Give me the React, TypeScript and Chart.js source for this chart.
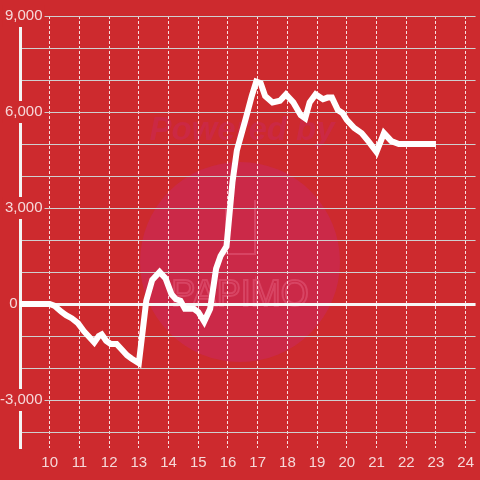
import React, { useEffect, useRef } from 'react';
import { Chart, registerables } from 'chart.js';

Chart.register(...registerables);

// hour of day
const hours = [
  9, 10, 10.15, 10.4, 10.55, 10.75, 10.95, 11.15, 11.4, 11.5, 11.65, 11.75, 11.9, 12.05, 12.25, 12.4, 12.6, 12.75, 13.0,
  13.25, 13.45, 13.7, 13.9, 14.1, 14.25, 14.4, 14.55, 14.85, 15.0, 15.2, 15.4, 15.6, 15.75, 15.95,
  16.15, 16.3, 16.45, 16.6, 16.8, 16.95, 17.1, 17.25, 17.5, 17.75, 17.95, 18.2, 18.45, 18.6, 18.75, 18.95,
  19.2, 19.35, 19.5, 19.7, 19.85, 20.0, 20.25, 20.5, 20.75, 21.0, 21.25, 21.5, 21.75, 23.0,
];
// balance
const balance = [
  0, 0, -50, -250, -350, -450, -600, -850, -1100, -1200, -1000, -950, -1150, -1250, -1250, -1400, -1600, -1700, -1850,
  100, 750, 1000, 800, 300, 150, 100, -150, -150, -250, -550, -150, 1100, 1500, 1800,
  3800, 4800, 5300, 5800, 6500, 6950, 6900, 6500, 6300, 6350, 6550, 6300, 5900, 5800, 6300, 6550,
  6400, 6450, 6450, 6060, 5970, 5750, 5500, 5340, 5060, 4750, 5340, 5090, 5000, 5000,
];

const xTickValues = [10, 11, 12, 13, 14, 15, 16, 17, 18, 19, 20, 21, 22, 23, 24];
const yGridValues = [-4000, -3000, -2000, -1000, 0, 1000, 2000, 3000, 4000, 5000, 6000, 7000, 8000, 9000];
const yLabelValues = [9000, 6000, 3000, 0, -3000];

const BG = '#cd2a2e';
const TEXT = 'rgba(255,255,255,0.82)';
const FONT = 'Liberation Sans, Arial, sans-serif';

export default function App() {
  const ref = useRef<HTMLCanvasElement | null>(null);

  useEffect(() => {
    document.body.style.margin = '0';
    document.body.style.background = BG;
    const canvas = ref.current;
    if (!canvas) return;

    const bgPlugin = {
      id: 'bgAndMark',
      beforeDraw(chart: any) {
        const ctx = chart.ctx;
        ctx.save();
        ctx.fillStyle = BG;
        ctx.fillRect(0, 0, chart.width, chart.height);
        // faint watermark
        ctx.fillStyle = 'rgba(200,40,110,0.42)';
        ctx.beginPath();
        ctx.arc(240, 262, 100, 0, Math.PI * 2);
        ctx.fill();
        ctx.fillStyle = 'rgba(200,40,110,0.35)';
        ctx.font = `italic bold 33px ${FONT}`;
        ctx.textAlign = 'center';
        ctx.textBaseline = 'alphabetic';
        ctx.fillText('Powered by', 242, 140);
        ctx.strokeStyle = 'rgba(235,110,140,0.4)';
        ctx.lineWidth = 2;
        ctx.font = `36px ${FONT}`;
        ctx.strokeText('PAPIMO', 240, 306);
        ctx.beginPath();
        ctx.moveTo(226, 208);
        ctx.lineTo(226, 254);
        ctx.lineTo(255, 254);
        ctx.lineTo(255, 200);
        ctx.stroke();
        ctx.restore();
      },
    };

    const chart = new Chart(canvas, {
      type: 'line',
      data: {
        datasets: [
          {
            data: hours.map((h, i) => ({ x: h, y: balance[i] })),
            borderColor: '#ffffff',
            borderWidth: 6,
            pointRadius: 0,
            tension: 0,
            fill: false,
          },
        ],
      },
      options: {
        animation: false,
        responsive: false,
        maintainAspectRatio: false,
        layout: { padding: { top: 16, right: 0, bottom: 0, left: 0 } },
        plugins: { legend: { display: false }, tooltip: { enabled: false } },
        scales: {
          x: {
            type: 'linear',
            min: 9,
            max: 24.3333,
            afterFit: (s: any) => {
              s.height = 32;
            },
            afterBuildTicks: (s: any) => {
              s.ticks = [9, ...xTickValues].map((v) => ({ value: v }));
            },
            border: { display: false, dash: [3, 2] },
            grid: {
              color: (c: any) => (c.tick && c.tick.value === 9 ? 'rgba(0,0,0,0)' : 'rgba(255,255,255,0.85)'),
              lineWidth: 1,
              drawTicks: false,
            },
            ticks: {
              autoSkip: false,
              maxRotation: 0,
              padding: 6,
              color: TEXT,
              font: { family: FONT, size: 15 },
              callback: (v: any) => (xTickValues.includes(Number(v)) ? String(v) : ''),
            },
          },
          y: {
            type: 'linear',
            min: -4500,
            max: 9000,
            afterFit: (s: any) => {
              s.width = 20;
            },
            afterBuildTicks: (s: any) => {
              s.ticks = yGridValues.map((v) => ({ value: v }));
            },
            border: { display: true, color: '#f4f4f4', width: 3 },
            grid: {
              color: (c: any) => (c.tick && c.tick.value === 0 ? '#f6f6f6' : '#cfcfcf'),
              lineWidth: (c: any) => (c.tick && c.tick.value === 0 ? 3 : 1),
              drawTicks: false,
            },
            ticks: {
              autoSkip: false,
              mirror: true,
              crossAlign: 'far',
              padding: -20,
              color: TEXT,
              font: { family: FONT, size: 15 },
              showLabelBackdrop: (c: any) => !!c.tick && c.tick.value !== 0 && yLabelValues.includes(c.tick.value),
              backdropColor: BG,
              backdropPadding: 2,
              callback: (v: any) => {
                const n = Number(v);
                if (!yLabelValues.includes(n)) return '';
                if (n === 0) return '0      ';
                return n.toLocaleString('en-US');
              },
            },
          },
        },
      },
      plugins: [bgPlugin],
    } as any);

    return () => chart.destroy();
  }, []);

  return (
    <div style={{ width: 480, height: 480 }}>
      <canvas ref={ref} width={480} height={480} style={{ display: 'block' }} />
    </div>
  );
}
